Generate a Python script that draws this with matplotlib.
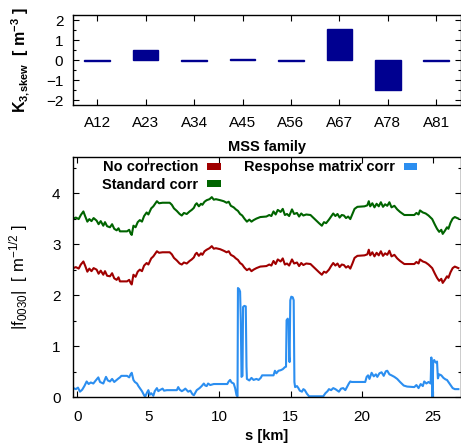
import matplotlib
matplotlib.use("Agg")
import matplotlib.pyplot as plt
from matplotlib.patches import Patch
from matplotlib.ticker import MultipleLocator

plt.rcParams['font.family'] = ['Liberation Sans', 'DejaVu Sans']
plt.rcParams['mathtext.fontset'] = 'custom'
plt.rcParams['mathtext.rm'] = 'Liberation Sans'
plt.rcParams['mathtext.bf'] = 'Liberation Sans:bold'
plt.rcParams['mathtext.it'] = 'Liberation Sans'

# ---------------- data ----------------
families = ["A12", "A23", "A34", "A45", "A56", "A67", "A78", "A81"]
k3_skew = [-0.04, 0.50, -0.03, 0.05, -0.05, 1.57, -1.52, -0.03]

s_corr = [-0.28, -0.1, 0.1, 0.25, 0.43, 0.55, 0.71, 0.85, 1.0, 1.15, 1.36, 1.5, 1.65, 1.83, 1.95,
          2.1, 2.3, 2.45, 2.6, 2.77, 2.9, 3.0, 3.5, 3.65, 3.75, 3.83, 3.95, 4.1, 4.25, 4.4,
          4.55, 4.7, 4.88, 5.0, 5.2, 5.35, 5.5, 5.6, 5.75, 6.0, 6.5, 6.65, 6.8, 7.0, 7.2,
          7.35, 7.5, 7.7, 7.9, 8.05, 8.2, 8.3, 8.4, 8.55, 8.7, 8.8, 8.95, 9.1, 9.3, 9.46,
          9.6, 9.75, 10.05, 10.3, 10.5, 10.65, 10.8, 11.0, 11.15, 11.3, 11.45, 11.6, 11.75, 11.93, 12.1,
          12.25, 12.4, 12.6, 12.87, 13.3, 13.5, 13.65, 13.8, 13.95, 14.1, 14.3, 14.45, 14.6, 14.75, 14.9,
          15.1, 15.25, 15.45, 15.6, 15.75, 15.9, 16.1, 16.4, 16.55, 16.7, 16.85, 17.0, 17.2, 17.35, 17.5,
          17.7, 17.85, 18.0, 18.15, 18.3, 18.45, 18.6, 18.75, 18.9, 19.05, 19.2, 19.35, 19.5, 19.7, 20.2,
          20.4, 20.5, 20.6, 20.75, 20.9, 21.05, 21.2, 21.35, 21.5, 21.65, 21.8, 21.95, 22.1, 22.3, 22.5,
          22.7, 23.0, 23.7, 23.85, 24.0, 24.1, 24.3, 24.5, 24.7, 24.96, 25.15, 25.3, 25.45, 25.6, 25.7,
          25.85, 26.0, 26.1, 26.25, 26.4, 26.55, 26.8]

f_no_corr = [2.53, 2.55, 2.52, 2.60, 2.66, 2.58, 2.46, 2.52, 2.47, 2.53, 2.50, 2.42, 2.48, 2.40, 2.47,
             2.38, 2.37, 2.43, 2.33, 2.30, 2.35, 2.27, 2.27, 2.30, 2.24, 2.21, 2.40, 2.36, 2.46, 2.50,
             2.47, 2.58, 2.63, 2.60, 2.72, 2.76, 2.82, 2.86, 2.83, 2.84, 2.84, 2.80, 2.73, 2.68, 2.62,
             2.60, 2.64, 2.62, 2.67, 2.70, 2.74, 2.80, 2.83, 2.77, 2.82, 2.79, 2.86, 2.89, 2.92, 2.96,
             2.91, 2.92, 2.90, 2.87, 2.84, 2.86, 2.79, 2.76, 2.72, 2.69, 2.63, 2.60, 2.54, 2.49, 2.52,
             2.47, 2.50, 2.53, 2.56, 2.57, 2.60, 2.58, 2.67, 2.61, 2.70, 2.66, 2.72, 2.60, 2.62, 2.58,
             2.70, 2.62, 2.64, 2.57, 2.63, 2.59, 2.62, 2.61, 2.57, 2.53, 2.49, 2.45, 2.40, 2.46, 2.44,
             2.50, 2.57, 2.63, 2.58, 2.62, 2.55, 2.60, 2.59, 2.54, 2.57, 2.52, 2.62, 2.73, 2.77, 2.78,
             2.80, 2.89, 2.78, 2.84, 2.76, 2.83, 2.78, 2.86, 2.77, 2.82, 2.79, 2.87, 2.76, 2.79, 2.72,
             2.67, 2.61, 2.61, 2.65, 2.62, 2.70, 2.66, 2.64, 2.60, 2.53, 2.42, 2.34, 2.28, 2.32, 2.24,
             2.30, 2.37, 2.34, 2.45, 2.53, 2.56, 2.53]

f_std_corr = [3.50, 3.52, 3.49, 3.57, 3.64, 3.55, 3.44, 3.49, 3.45, 3.51, 3.46, 3.39, 3.45, 3.36, 3.43,
              3.35, 3.33, 3.39, 3.30, 3.27, 3.31, 3.25, 3.25, 3.28, 3.21, 3.18, 3.36, 3.33, 3.43, 3.47,
              3.44, 3.55, 3.62, 3.58, 3.70, 3.74, 3.80, 3.84, 3.80, 3.81, 3.81, 3.77, 3.70, 3.65, 3.59,
              3.56, 3.61, 3.59, 3.64, 3.67, 3.71, 3.77, 3.80, 3.74, 3.79, 3.77, 3.83, 3.86, 3.88, 3.92,
              3.87, 3.88, 3.86, 3.84, 3.81, 3.83, 3.75, 3.72, 3.68, 3.65, 3.59, 3.56, 3.50, 3.44, 3.48,
              3.44, 3.47, 3.50, 3.53, 3.54, 3.57, 3.55, 3.64, 3.58, 3.67, 3.63, 3.69, 3.57, 3.59, 3.55,
              3.68, 3.59, 3.61, 3.54, 3.60, 3.56, 3.58, 3.57, 3.53, 3.49, 3.45, 3.41, 3.36, 3.43, 3.41,
              3.48, 3.54, 3.60, 3.55, 3.59, 3.52, 3.57, 3.56, 3.51, 3.54, 3.49, 3.59, 3.69, 3.73, 3.74,
              3.76, 3.84, 3.74, 3.80, 3.72, 3.79, 3.74, 3.82, 3.73, 3.78, 3.75, 3.82, 3.72, 3.75, 3.68,
              3.63, 3.57, 3.57, 3.61, 3.58, 3.66, 3.62, 3.60, 3.56, 3.49, 3.38, 3.30, 3.24, 3.28, 3.20,
              3.26, 3.33, 3.30, 3.42, 3.50, 3.53, 3.50]

s_resp = [-0.28, -0.1, 0.05, 0.19, 0.35, 0.5, 0.66, 0.8, 0.95, 1.13, 1.3, 1.48, 1.6, 1.83, 1.95,
          2.02, 2.15, 2.3, 2.45, 2.6, 2.77, 2.9, 3.0, 3.1, 3.5, 3.65, 3.75, 3.83, 3.95, 4.05,
          4.2, 4.3, 4.4, 4.55, 4.7, 4.77, 4.9, 5.0, 5.1, 5.2, 5.35, 5.45, 5.6, 5.7, 5.8,
          6.0, 6.1, 6.3, 7.0, 7.1, 7.2, 7.35, 7.47, 7.6, 7.8, 7.95, 8.1, 8.2, 8.3, 8.4,
          8.6, 8.75, 8.9, 9.0, 9.1, 9.2, 9.35, 9.6, 10.55, 10.65, 10.75, 10.85, 11.0, 11.1, 11.2,
          11.27, 11.3, 11.38, 11.45, 11.5, 11.55, 11.62, 11.66, 11.75, 11.85, 11.9, 11.93, 12.1, 12.25, 12.4,
          12.6, 12.75, 12.9, 13.0, 13.1, 13.8, 13.9, 14.0, 14.15, 14.3, 14.45, 14.6, 14.68, 14.72, 14.8,
          14.86, 14.9, 14.93, 14.98, 15.05, 15.15, 15.22, 15.27, 15.32, 15.45, 15.55, 15.65, 15.8, 15.9, 16.0,
          16.15, 16.3, 17.3, 17.45, 17.6, 17.7, 17.85, 18.0, 18.15, 18.3, 18.4, 18.55, 18.7, 18.85, 19.0,
          19.1, 19.2, 19.3, 20.25, 20.35, 20.45, 20.55, 20.7, 20.85, 21.0, 21.1, 21.25, 21.4, 21.55, 21.7,
          21.8, 21.95, 22.1, 22.3, 22.5, 22.7, 22.96, 23.2, 23.7, 23.85, 24.0, 24.15, 24.3, 24.4, 24.55,
          24.7, 24.85, 24.9, 24.95, 24.98, 25.03, 25.1, 25.2, 25.3, 25.36, 25.45, 25.6, 25.75, 25.9, 26.0,
          26.15, 26.3, 26.4, 26.55, 26.8]

f_resp_corr = [0.18, 0.16, 0.19, 0.11, 0.15, 0.22, 0.31, 0.26, 0.29, 0.27, 0.33, 0.39, 0.30, 0.27, 0.35,
               0.40, 0.33, 0.31, 0.36, 0.30, 0.34, 0.37, 0.39, 0.42, 0.42, 0.39, 0.45, 0.48, 0.34, 0.30,
               0.27, 0.22, 0.18, 0.12, 0.04, 0.01, 0.09, 0.14, 0.05, 0.08, 0.03, 0.12, 0.18, 0.12, 0.14,
               0.17, 0.13, 0.14, 0.14, 0.20, 0.15, 0.12, 0.14, 0.17, 0.11, 0.13, 0.06, 0.04, 0.09, 0.14,
               0.18, 0.22, 0.27, 0.23, 0.22, 0.27, 0.24, 0.26, 0.26, 0.31, 0.34, 0.29, 0.27, 0.18, 0.04,
               0.02, 2.14, 2.12, 2.07, 1.50, 0.40, 0.42, 1.77, 1.79, 1.78, 0.60, 0.36, 0.33, 0.38, 0.34,
               0.36, 0.34, 0.38, 0.43, 0.43, 0.43, 0.52, 0.47, 0.52, 0.53, 0.55, 0.59, 0.60, 1.51, 1.54,
               1.50, 0.80, 0.69, 1.90, 1.97, 1.96, 1.90, 0.30, 0.20, 0.22, 0.18, 0.13, 0.11, 0.16, 0.14,
               0.07, 0.02, 0.02, 0.08, 0.12, 0.16, 0.14, 0.18, 0.16, 0.13, 0.11, 0.17, 0.18, 0.14, 0.22,
               0.27, 0.31, 0.30, 0.30, 0.40, 0.43, 0.36, 0.48, 0.41, 0.45, 0.40, 0.47, 0.49, 0.42, 0.51,
               0.52, 0.45, 0.43, 0.40, 0.36, 0.30, 0.23, 0.21, 0.20, 0.24, 0.18, 0.26, 0.22, 0.31, 0.27,
               0.30, 0.27, 0.78, 0.40, 0.01, 0.70, 0.73, 0.68, 0.70, 0.37, 0.45, 0.43, 0.38, 0.35, 0.34,
               0.28, 0.22, 0.18, 0.16, 0.16]

# ---------------- figure ----------------
W, H = 461, 447
fig = plt.figure(figsize=(W / 100, H / 100), dpi=100)

def px_axes(l, t, r, b):
    return fig.add_axes([l / W, 1 - b / H, (r - l) / W, (b - t) / H])

tick_fs = 11
lab_fs = 11

# top panel
ax1 = px_axes(73, 15, 460.5, 105)
x = list(range(len(families)))
ax1.bar(x, k3_skew, width=0.53, color='#000090', edgecolor='#000090', linewidth=1.0)
ax1.set_xlim(-0.5, len(families) - 0.5)
ax1.set_ylim(-2.25, 2.25)
ax1.set_xticks(x)
ax1.set_xticklabels(families)
ax1.yaxis.set_major_locator(MultipleLocator(1))
ax1.yaxis.set_minor_locator(MultipleLocator(0.5))
ax1.set_ylabel(r'K$_{\mathbf{3{,}skew}}$  [ m$^{\mathbf{-3}}$ ]', fontsize=lab_fs + 0.5,
               fontweight='bold', labelpad=10)
ax1.set_xlabel('MSS family', fontsize=lab_fs - 0.5, fontweight='bold', labelpad=7)

# bottom panel
ax2 = px_axes(73, 157.3, 460.5, 397.3)
ax2.plot(s_corr, f_no_corr, color='#a00000', lw=1.5, label='No correction')
ax2.plot(s_corr, f_std_corr, color='#006400', lw=1.5, label='Standard corr')
ax2.plot(s_resp, f_resp_corr, color='#2b8ef0', lw=1.5, label='Response matrix corr')
ax2.set_xlim(-0.3, 26.95)
ax2.set_ylim(0, 4.7)
ax2.xaxis.set_major_locator(MultipleLocator(5))
ax2.yaxis.set_major_locator(MultipleLocator(1))
ax2.yaxis.set_minor_locator(MultipleLocator(0.5))
ax2.set_xlabel('s [km]', fontsize=lab_fs - 0.5, fontweight='bold', labelpad=4)
ax2.set_ylabel(r'|f$_{0030}$|  [ m$^{-1/2}$ ]', fontsize=lab_fs + 1, labelpad=16)

for ax in (ax1, ax2):
    ax.tick_params(which='both', direction='in', top=True, right=True, labelsize=tick_fs)
    ax.tick_params(which='major', length=4, width=0.8)
    ax.tick_params(which='minor', length=2, width=0.8)
    for sp in ax.spines.values():
        sp.set_linewidth(1.0)
ax1.tick_params(axis='x', pad=8)
ax2.tick_params(axis='x', pad=9)
ax1.tick_params(axis='y', pad=7)
ax2.tick_params(axis='y', pad=9)

handles = [Patch(facecolor='#a00000', edgecolor='none', label='No correction'),
           Patch(facecolor='#006400', edgecolor='none', label='Standard corr'),
           Patch(facecolor='#2b8ef0', edgecolor='none', label='Response matrix corr')]
leg = ax2.legend(handles=handles, ncol=2, markerfirst=False, frameon=False,
                 loc='upper left', bbox_to_anchor=(0.048, 1.03),
                 prop={'weight': 'bold', 'size': 10.5},
                 handlelength=0.95, handleheight=0.35, handletextpad=0.6,
                 columnspacing=1.6, labelspacing=0.25, borderpad=0.2)

fig.savefig('out.png', dpi=100)
